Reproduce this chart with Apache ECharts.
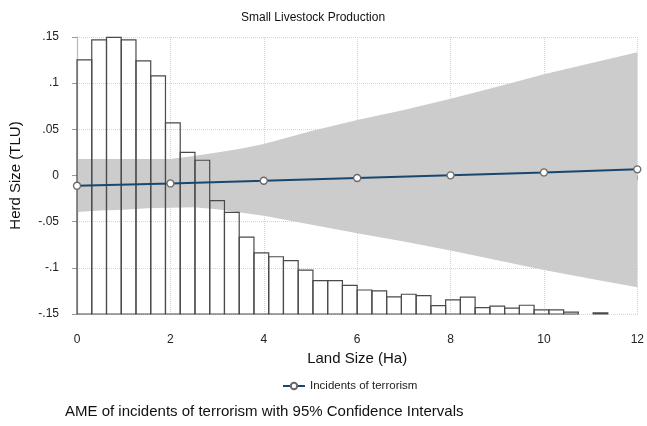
<!DOCTYPE html>
<html>
<head>
<meta charset="utf-8">
<script src="https://cdn.jsdelivr.net/npm/echarts@6/dist/echarts.min.js"></script>
<style>
html,body{margin:0;padding:0;background:#fff;}
#chart{width:647px;height:426px;}
</style>
</head>
<body>
<div id="chart"></div>
<script>
// ---- data ----
const titleText = 'Small Livestock Production';
const xAxisName = 'Land Size (Ha)';
const yAxisName = 'Herd Size (TLU)';
const seriesName = 'Incidents of terrorism';
const noteText = 'AME of incidents of terrorism with 95% Confidence Intervals';

// histogram (land size distribution), drawn from the y-axis floor
const histStart = 0;
const histBinWidth = 12 / 38;
const histBase = -0.15;
const histTops = [0.1253, 0.1469, 0.1495, 0.1469, 0.1242, 0.1078, 0.0571, 0.0251, 0.0165,
  -0.0273, -0.0399, -0.0668, -0.0838, -0.0880, -0.0923, -0.1024, -0.1139, -0.1139, -0.1189,
  -0.1240, -0.1250, -0.1315, -0.1286, -0.1301, -0.1409, -0.1347, -0.1318, -0.1430, -0.1415,
  -0.1437, -0.1405, -0.1455, -0.1455, -0.1480, null, -0.1487];

// confidence band
const bandX = [0, 0.5, 1, 1.5, 2, 2.5, 3, 3.5, 4, 5, 6, 7, 8, 9, 10, 11, 12];
const bandUpper = [0.018, 0.018, 0.018, 0.018, 0.018, 0.021, 0.025, 0.029, 0.034, 0.048, 0.060, 0.071, 0.083, 0.096, 0.1096, 0.1216, 0.1336];
const bandLower = [-0.0395, -0.038, -0.037, -0.0355, -0.035, -0.0345, -0.0366, -0.040, -0.0435, -0.0532, -0.0625, -0.0715, -0.0812, -0.0918, -0.1024, -0.1117, -0.121];

// AME point estimates
const ameX = [0, 2, 4, 6, 8, 10, 12];
const ameY = [-0.0111, -0.0086, -0.0057, -0.0027, 0.0002, 0.0033, 0.0067];

// axis ticks
const xMin = 0, xMax = 12, xStep = 2;
const yMin = -0.15, yMax = 0.15, yStep = 0.05;

// ---- chart ----
const FONT = '"Liberation Sans", Arial, Helvetica, sans-serif';
const histData = [];
histTops.forEach((t, i) => {
  if (t === null) return;
  histData.push([histStart + i * histBinWidth, histStart + (i + 1) * histBinWidth, t]);
});
const lineData = ameX.map((x, i) => [x, ameY[i]]);

function yFmt(v) {
  const r = Math.round(v * 100) / 100;
  if (r === 0) return '0';
  return String(r).replace('0.', '.');
}

const chart = echarts.init(document.getElementById('chart'), null, {renderer: 'canvas'});
chart.setOption({
  backgroundColor: '#fff',
  animation: false,
  textStyle: {fontFamily: FONT},
  title: {
    text: titleText, left: 236, top: 7,
    textStyle: {fontSize: 12, fontWeight: 'normal', color: '#111', fontFamily: FONT}
  },
  legend: {
    data: [seriesName], left: 277, top: 375,
    itemWidth: 22, itemHeight: 8,
    textStyle: {fontSize: 11.5, color: '#222', fontFamily: FONT}
  },
  grid: {left: 77, right: 7, top: 37, bottom: 112, containLabel: false},
  xAxis: {
    type: 'value', min: xMin, max: xMax, interval: xStep,
    offset: 9,
    name: xAxisName, nameLocation: 'middle', nameGap: 23,
    nameTextStyle: {fontSize: 15, color: '#111', fontFamily: FONT},
    axisLine: {show: true, lineStyle: {color: '#bdbdbd', width: 1.3}},
    axisTick: {show: true, length: 5, lineStyle: {color: '#999'}},
    axisLabel: {fontSize: 12, color: '#222', margin: 11, fontFamily: FONT},
    splitLine: {show: true, lineStyle: {type: 'dotted', color: '#d4d4d4'}}
  },
  yAxis: {
    type: 'value', min: yMin, max: yMax, interval: yStep,
    offset: 10,
    name: yAxisName, nameLocation: 'middle', nameGap: 44, nameRotate: 90,
    nameTextStyle: {fontSize: 15, color: '#111', fontFamily: FONT},
    axisLine: {show: true, lineStyle: {color: '#bdbdbd', width: 1.3}},
    axisTick: {show: true, length: 5, lineStyle: {color: '#999'}},
    axisLabel: {fontSize: 12, color: '#222', margin: 8, formatter: yFmt, fontFamily: FONT},
    splitLine: {show: true, lineStyle: {type: 'dotted', color: '#d4d4d4'}}
  },
  graphic: [{
    type: 'text', left: 65, top: 404,
    style: {text: noteText, fontSize: 15, fill: '#111', fontFamily: FONT}
  }],
  series: [
    {
      type: 'custom', name: 'CI', z: 1, silent: true,
      data: [[bandX[0], bandUpper[0]]],
      renderItem: function (params, api) {
        const pts = [];
        for (let i = 0; i < bandX.length; i++) pts.push(api.coord([bandX[i], bandUpper[i]]));
        for (let i = bandX.length - 1; i >= 0; i--) pts.push(api.coord([bandX[i], bandLower[i]]));
        return {type: 'polygon', shape: {points: pts}, style: {fill: '#cccccc', stroke: null}};
      }
    },
    {
      type: 'custom', name: 'hist', z: 2, silent: true,
      data: histData,
      encode: {x: [0, 1], y: 2},
      renderItem: function (params, api) {
        const p0 = api.coord([api.value(0), api.value(2)]);
        const p1 = api.coord([api.value(1), histBase]);
        return {
          type: 'rect',
          shape: {x: p0[0], y: p0[1], width: p1[0] - p0[0], height: p1[1] - p0[1]},
          style: {fill: 'none', stroke: '#4a4a4a', lineWidth: 1.2}
        };
      }
    },
    {
      type: 'line', name: seriesName, z: 3,
      data: lineData,
      symbol: 'circle', symbolSize: 7, clip: false,
      lineStyle: {color: '#1a476f', width: 2},
      itemStyle: {color: '#ffffff', borderColor: '#6a6a6a', borderWidth: 1.3}
    }
  ]
});
</script>
</body>
</html>
